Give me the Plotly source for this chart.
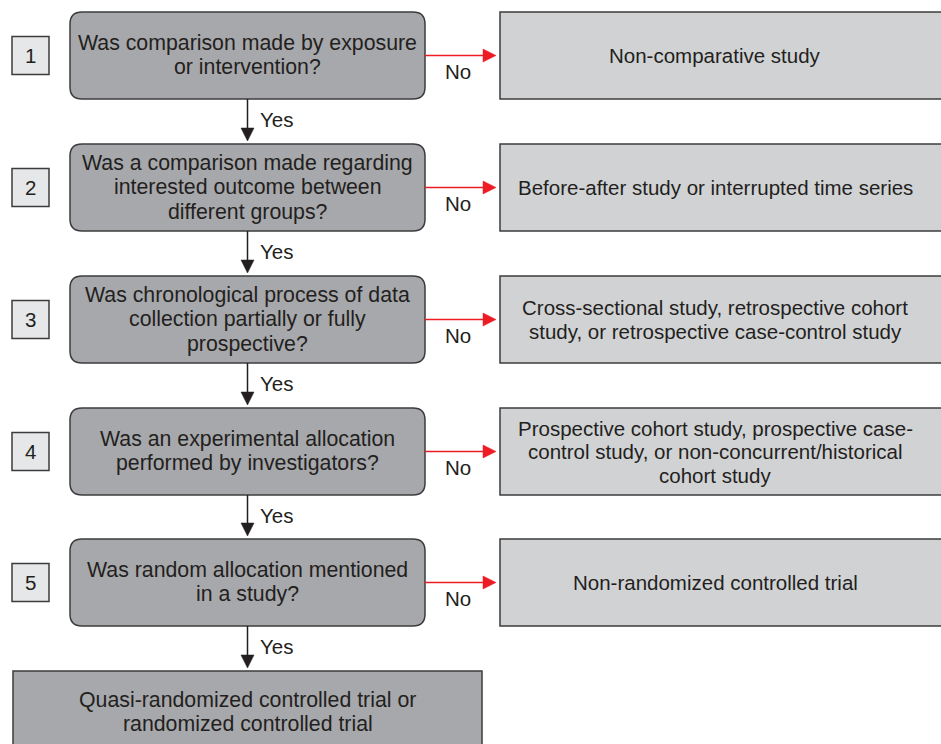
import plotly.graph_objects as go

# ---- content ----
step_numbers = ["1", "2", "3", "4", "5"]
questions = [
    "Was comparison made by exposure<br>or intervention?",
    "Was a comparison made regarding<br>interested outcome between<br>different groups?",
    "Was chronological process of data<br>collection partially or fully<br>prospective?",
    "Was an experimental allocation<br>performed by investigators?",
    "Was random allocation mentioned<br>in a study?",
]
no_outcomes = [
    "Non-comparative study",
    "Before-after study or interrupted time series",
    "Cross-sectional study, retrospective cohort<br>study, or retrospective case-control study",
    "Prospective cohort study, prospective case-<br>control study, or non-concurrent/historical<br>cohort study",
    "Non-randomized controlled trial",
]
final_outcome = "Quasi-randomized controlled trial or<br>randomized controlled trial"
yes_label = "Yes"
no_label = "No"

# ---- layout geometry (pixels) ----
W, H = 941, 744
row_top = [12, 144, 276, 408, 539]
row_h = 87
qx0, qx1 = 70, 425
rx0, rx1 = 500, 948
nx0, nx1 = 12, 49
num_h = 38
radius = 12
FS = 20.5
FS_Q = 21.3

DARK = "#A7A8AB"
MID = "#D1D2D4"
LIGHT = "#E6E7E8"
EDGE = "#3C3C3C"
TXT = "#231F20"
RED = "#ED1C24"
FONT = "Liberation Sans, Arial, sans-serif"

fig = go.Figure()
shapes = []
annotations = []


def rounded_rect(x0, y0, x1, y1, r):
    return (f"M {x0+r},{y0} L {x1-r},{y0} Q {x1},{y0} {x1},{y0+r} "
            f"L {x1},{y1-r} Q {x1},{y1} {x1-r},{y1} L {x0+r},{y1} "
            f"Q {x0},{y1} {x0},{y1-r} L {x0},{y0+r} Q {x0},{y0} {x0+r},{y0} Z")


def text(x, y, s, size=FS, gap=24, xanchor="center"):
    lines = s.split("<br>")
    n = len(lines)
    for k, ln in enumerate(lines):
        yy = y + (k - (n - 1) / 2) * gap
        annotations.append(dict(x=x, y=yy, xref="x", yref="y", text=ln, showarrow=False,
                                font=dict(family=FONT, size=size, color=TXT),
                                align="center", xanchor=xanchor, yanchor="middle"))


for i, (num, q, out) in enumerate(zip(step_numbers, questions, no_outcomes)):
    y0 = row_top[i]
    y1 = y0 + row_h
    yc = (y0 + y1) / 2
    # question box
    shapes.append(dict(type="path", path=rounded_rect(qx0, y0, qx1, y1, radius),
                       xref="x", yref="y", fillcolor=DARK, line=dict(color=EDGE, width=1.5)))
    text((qx0 + qx1) / 2, yc - 0.5, q, size=FS_Q, gap=24.5)
    # number box
    shapes.append(dict(type="rect", x0=nx0, x1=nx1, y0=yc - num_h / 2, y1=yc + num_h / 2,
                       xref="x", yref="y", fillcolor=LIGHT, line=dict(color=EDGE, width=1.5)))
    text((nx0 + nx1) / 2, yc, num)
    # outcome box
    shapes.append(dict(type="rect", x0=rx0, x1=rx1, y0=y0, y1=y1, xref="x", yref="y",
                       fillcolor=MID, line=dict(color=EDGE, width=1.5)))
    text(715, yc, out, gap=23.5)
    # red "No" arrow
    shapes.append(dict(type="line", x0=qx1, x1=484, y0=yc, y1=yc, xref="x", yref="y",
                       line=dict(color=RED, width=1.5)))
    shapes.append(dict(type="path", path=f"M 483,{yc-6.5} L 496,{yc} L 483,{yc+6.5} Z",
                       xref="x", yref="y", fillcolor=RED, line=dict(color=RED, width=0.5)))
    text(458, yc + 16, no_label)
    # black "Yes" arrow going down
    ny = row_top[i + 1] if i + 1 < len(row_top) else 671
    xc = (qx0 + qx1) / 2
    shapes.append(dict(type="line", x0=xc, x1=xc, y0=y1, y1=ny - 14, xref="x", yref="y",
                       line=dict(color=TXT, width=1.5)))
    shapes.append(dict(type="path",
                       path=f"M {xc-6.5},{ny-16} L {xc},{ny-3} L {xc+6.5},{ny-16} Z",
                       xref="x", yref="y", fillcolor=TXT, line=dict(color=TXT, width=0.5)))
    text(xc + 10.5, (y1 + ny) / 2 - 2, yes_label, xanchor="left")

# final box
shapes.append(dict(type="rect", x0=13, x1=482, y0=671, y1=760, xref="x", yref="y",
                   fillcolor=DARK, line=dict(color=EDGE, width=1.5)))
text(247.5, 712, final_outcome, size=FS_Q, gap=24.5)

fig.update_layout(
    width=W, height=H,
    margin=dict(l=0, r=0, t=0, b=0),
    paper_bgcolor="white", plot_bgcolor="white",
    xaxis=dict(range=[0, W], visible=False, fixedrange=True),
    yaxis=dict(range=[H, 0], visible=False, fixedrange=True),
    shapes=shapes, annotations=annotations, showlegend=False,
)
fig.write_html("out.html", config={"displayModeBar": False},
               post_script="document.body.style.margin='0';document.body.style.overflow='hidden';")
